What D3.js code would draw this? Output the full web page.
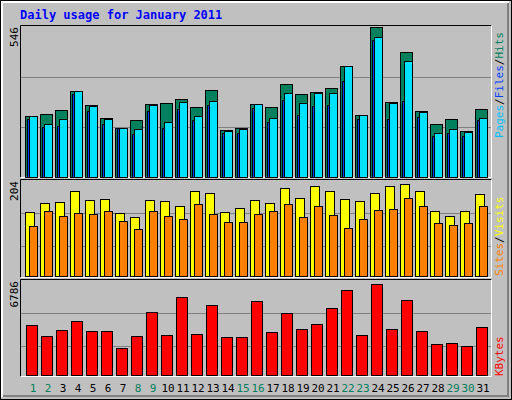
<!DOCTYPE html>
<html><head><meta charset="utf-8">
<script src="https://cdn.jsdelivr.net/npm/d3@7"></script>
<style>body{margin:0;background:#fff}</style>
</head><body><svg width="512" height="400"></svg>
<script>
var days = d3.range(1, 32)
var weekend = [1, 2, 8, 9, 15, 16, 22, 23, 29, 30]
var hits = [222,229,244,313,262,215,178,207,266,269,284,255,317,171,178,266,255,339,302,309,324,404,226,546,273,455,240,193,211,167,248]
var files = [222,193,211,313,258,211,178,175,262,200,273,222,277,167,175,266,215,306,269,306,306,404,226,510,269,422,237,160,175,164,215]
var pages = [211,182,186,302,240,193,178,157,240,178,248,207,262,160,160,251,200,280,226,258,262,349,211,499,211,277,218,149,160,149,207]
var visits = [142,162,164,188,168,171,140,131,168,166,155,188,184,142,151,168,162,195,173,200,188,171,166,184,200,204,188,144,133,144,182]
var sites = [111,144,133,140,137,144,122,104,144,133,126,160,137,120,120,137,144,160,131,155,135,106,126,146,149,173,155,118,113,118,155]
var kbytes = [3730,2910,3357,4028,3282,3282,2014,2910,4700,2984,5819,3059,5222,2835,2835,5520,3208,4625,3432,3805,4998,6341,2984,6786,3432,5595,3282,2313,2387,2163,3581]

var svg = d3.select("svg")
var mono = "DejaVu Sans Mono"

svg.append("rect").attr("x", 0.5).attr("y", 0.5).attr("width", 511).attr("height", 399)
	.attr("fill", "#c0c0c0").attr("stroke", "#000")
svg.append("path").attr("d", "M2,397V2H509").attr("fill", "none").attr("stroke", "#fff").attr("stroke-width", 2)
svg.append("path").attr("d", "M3,396H508V3").attr("fill", "none").attr("stroke", "#808080").attr("stroke-width", 2)

svg.append("text").attr("x", 20).attr("y", 19).attr("font-family", mono).attr("font-weight", "bold")
	.attr("font-size", 12).attr("fill", "#0000ff").text("Daily usage for January 2011")

var x = d3.scaleBand().domain(days).range([25, 490]).paddingInner(0)

var panels = [
	{top: 25, bottom: 177, y: d3.scaleLinear().domain([0, 546]).range([177, 27]), max: "546", grid: [77, 127]},
	{top: 179, bottom: 277, y: d3.scaleLinear().domain([0, 204]).range([276, 184]), max: "204", grid: [213, 246]},
	{top: 279, bottom: 376, y: d3.scaleLinear().domain([0, 6786]).range([375, 284]), max: "6786", grid: [313, 346]}
]

panels.forEach(function(p) {
	svg.append("path").attr("d", "M20.5," + (p.bottom + 0.5) + "V" + (p.top + 0.5) + "H491.5")
		.attr("fill", "none").attr("stroke", "#000")
	svg.append("path").attr("d", "M20.5," + (p.bottom + 0.5) + "H491.5V" + (p.top + 0.5))
		.attr("fill", "none").attr("stroke", "#fff")
	svg.selectAll(null).data(p.grid).enter().append("line")
		.attr("x1", 21).attr("x2", 491).attr("y1", function(d) { return d + 0.5 }).attr("y2", function(d) { return d + 0.5 })
		.attr("stroke", "#808080")
	svg.append("text").attr("transform", "translate(18," + (p.top + 2) + ") rotate(-90)")
		.attr("text-anchor", "end").attr("font-family", mono).attr("font-size", 11).attr("fill", "#000").text(p.max)
})

function bars(data, y, dx, w, fill) {
	svg.append("g").selectAll("rect").data(data).enter().append("rect")
		.attr("x", function(d, i) { return x(days[i]) + dx + 0.5 })
		.attr("y", function(d) { return Math.round(y(d)) + 0.5 })
		.attr("width", w)
		.attr("height", function(d) { return y(0) - Math.round(y(d)) })
		.attr("fill", fill).attr("stroke", "#000")
}
bars(hits, panels[0].y, 0, 12, "#00805c")
bars(pages, panels[0].y, 2, 5, "#0040ff")
bars(files, panels[0].y, 4, 8, "#00e0ff")
bars(visits, panels[1].y, 0, 9, "#ffff00")
bars(sites, panels[1].y, 4, 8, "#ff8000")
bars(kbytes, panels[2].y, 1, 11, "#ff0000")

svg.append("g").selectAll("text").data(days).enter().append("text")
	.attr("x", function(d) { return x(d) + 8 }).attr("y", 392)
	.attr("text-anchor", "middle").attr("font-family", mono).attr("font-size", 11)
	.attr("fill", function(d) { return weekend.indexOf(d) >= 0 ? "#00805c" : "#000" })
	.text(function(d) { return d })

function sideLabel(y, parts) {
	var t = svg.append("text").attr("transform", "translate(503," + y + ") rotate(-90)")
		.attr("font-family", mono).attr("font-size", 11)
	parts.forEach(function(p) { t.append("tspan").attr("fill", p[1]).text(p[0]) })
}
sideLabel(138, [["Pages", "#00c0ff"], ["/", "#000"], ["Files", "#0040ff"], ["/", "#000"], ["Hits", "#00805c"]])
sideLabel(276, [["Sites", "#ff8000"], ["/", "#000"], ["Visits", "#ffff00"]])
sideLabel(376, [["KBytes", "#ff0000"]])
</script></body></html>
